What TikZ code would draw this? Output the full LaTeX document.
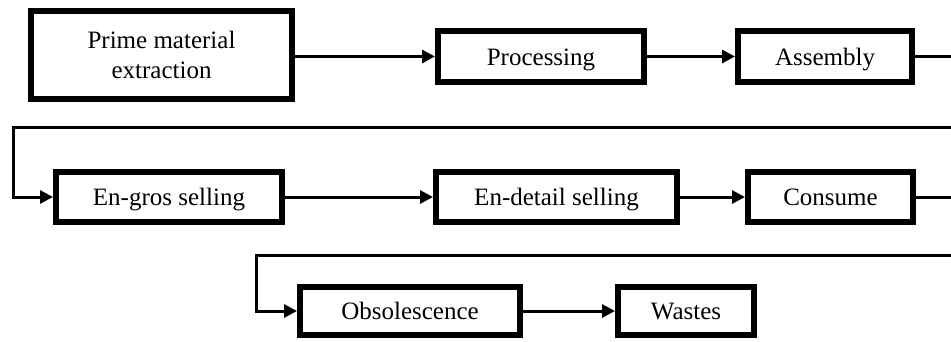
\documentclass[tikz,border=0pt]{standalone}
\usepackage{fontspec}
\setmainfont{Liberation Serif}
\usetikzlibrary{positioning, arrows.meta}
\tikzset{
        x=1pt, y=-1pt, % one unit per pixel of the page, y going down
        stage/.style={draw, line width=6pt, fill=white, align=center,
                inner sep=0pt, font=\fontsize{25}{30}\selectfont}, % every box of the chain
        oneline/.style={stage, text height=17pt, text depth=0pt}, % keeps the baselines level
        flow/.style={-{Triangle[length=13pt, width=13pt]}, line width=3pt}, % every connector
}

\begin{document}
\begin{tikzpicture}
      \useasboundingbox (0,0) rectangle (951,341);
      \clip (0,0) rectangle (951,341);
      % first row
      \node[stage, minimum width=261pt, minimum height=88pt] (prime) at (161.5,55) {Prime material\\extraction};
      \node[oneline, minimum width=206pt, minimum height=51pt] (processing) at (541,56.5) {Processing};
      \node[oneline, minimum width=174pt, minimum height=51pt] (assembly) at (825,56.5) {Assembly};
      % second row
      \node[oneline, minimum width=226pt, minimum height=50pt] (engros) at (169,197) {En-gros selling};
      \node[oneline, minimum width=241pt, minimum height=50pt] (endetail) at (556.5,197) {En-detail selling};
      \node[oneline, minimum width=165pt, minimum height=50pt] (consume) at (830.5,197) {Consume};
      % third row
      \node[oneline, minimum width=220pt, minimum height=48pt] (obsolescence) at (410,311) {Obsolescence};
      \node[oneline, minimum width=136pt, minimum height=48pt] (wastes) at (686,311) {Wastes};
      % turning points of the wrap-around lines
      \coordinate (edgeA) at (960,127);
      \coordinate (turnA) at (13,127);
      \coordinate (edgeB) at (960,255);
      \coordinate (turnB) at (256,255);
      % connectors
      \draw[flow] (prime.east |- processing.west) -- (processing.west);
      \draw[flow] (processing) -- (assembly);
      \draw[flow] (assembly.east) -| (edgeA) -- (turnA) |- (engros.west);
      \draw[flow] (engros) -- (endetail);
      \draw[flow] (endetail) -- (consume);
      \draw[flow] (consume.east) -| (edgeB) -- (turnB) |- (obsolescence.west);
      \draw[flow] (obsolescence) -- (wastes);
\end{tikzpicture}
\end{document}
